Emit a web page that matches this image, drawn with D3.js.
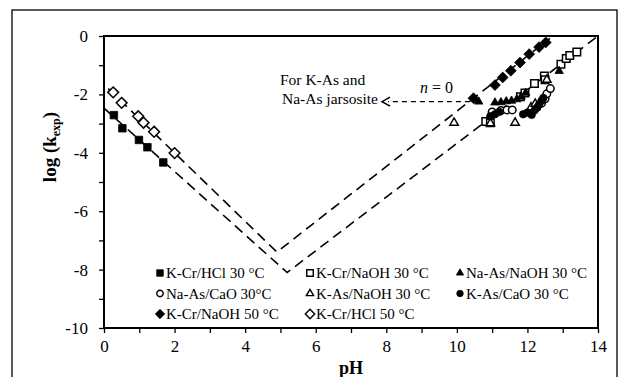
<!DOCTYPE html>
<html>
<head>
<meta charset="utf-8">
<script src="https://cdn.jsdelivr.net/npm/d3@7"></script>
<style>
  body { margin: 0; background: #fff; }
  svg { display: block; }
</style>
</head>
<body>
<div id="chart"></div>
<script>
// pH vs log(k_exp) for jarsosite decomposition

const kcrHcl30 = [[0.28, -2.71], [0.52, -3.16], [0.99, -3.56], [1.23, -3.81], [1.68, -4.33]];
const kcrHcl50 = [[0.26, -1.93], [0.5, -2.29], [0.97, -2.75], [1.12, -2.97], [1.42, -3.28], [2.0, -4.01]];
const kcrNaoh50 = [[10.47, -2.13], [11.08, -1.68], [11.3, -1.42], [11.53, -1.19], [11.79, -0.91], [12.05, -0.62], [12.33, -0.38], [12.52, -0.22]];
const kcrNaoh30 = [[10.82, -2.93], [10.95, -2.97], [11.8, -2.08], [11.93, -1.95], [12.2, -1.63], [12.48, -1.37], [12.5, -1.5], [12.95, -0.97], [13.1, -0.77], [13.2, -0.67], [13.4, -0.55]];
const naAsNaoh30 = [[10.62, -2.25], [11.08, -2.28], [11.25, -2.27], [11.4, -2.24], [11.55, -2.22], [11.7, -2.17], [11.82, -2.08], [11.95, -1.95], [12.9, -1.2]];
const kAsNaoh30 = [[9.92, -2.97], [10.95, -2.99], [11.65, -2.97], [12.1, -2.45], [12.22, -2.32], [12.55, -1.5]];
const naAsCao30 = [[11.0, -2.6], [11.25, -2.55], [11.42, -2.53], [11.57, -2.53], [12.25, -2.45], [12.4, -2.3], [12.5, -2.15], [12.55, -1.98], [12.65, -1.8]];
const kAsCao30 = [[10.95, -2.75], [11.08, -2.68], [11.2, -2.6], [11.88, -2.68], [12.0, -2.62], [12.12, -2.7], [12.2, -2.55], [12.28, -2.45], [12.33, -2.35], [12.4, -2.22], [12.45, -2.12]];

// dashed model lines (V shapes)
const lowerV = [[0, -2.47], [5.19, -8.1], [14, 0]];
const upperV = [[0.12, -1.8], [4.9, -7.4], [12.64, -0.08]];
// n = 0 arrow
const arrowLine = [[10.37, -2.25], [7.88, -2.25]];

const xTicks = d3.range(0, 15, 1);
const yTicks = d3.range(-10, 1, 1);

const series = [
  { label: 'K-Cr/HCl 30 °C', data: kcrHcl30, shape: 'square', open: false },
  { label: 'K-Cr/NaOH 30 °C', data: kcrNaoh30, shape: 'square', open: true },
  { label: 'Na-As/NaOH 30 °C', data: naAsNaoh30, shape: 'triangle', open: false },
  { label: 'Na-As/CaO 30°C', data: naAsCao30, shape: 'circle', open: true },
  { label: 'K-As/NaOH 30 °C', data: kAsNaoh30, shape: 'triangle', open: true },
  { label: 'K-As/CaO 30 °C', data: kAsCao30, shape: 'circle', open: false },
  { label: 'K-Cr/NaOH 50 °C', data: kcrNaoh50, shape: 'diamond', open: false },
  { label: 'K-Cr/HCl 50 °C', data: kcrHcl50, shape: 'diamond', open: true },
];

const W = 625, H = 377;
const font = '"Liberation Serif", "Times New Roman", serif';

const svg = d3.select('#chart').append('svg').attr('width', W).attr('height', H);

// outer figure frame
svg.append('rect').attr('x', 12).attr('y', 10).attr('width', 605).attr('height', 400)
  .attr('fill', 'none').attr('stroke', '#000').attr('stroke-width', 1.3);

const x = d3.scaleLinear().domain([0, 14]).range([104, 598]);
const y = d3.scaleLinear().domain([-10, 0]).range([328, 36]);

// axes
const gx = svg.append('g').attr('transform', `translate(0, ${y(-10)})`)
  .call(d3.axisBottom(x).tickValues(xTicks).tickSize(5).tickFormat(d => d % 2 === 0 ? String(d) : ''));
const gy = svg.append('g').attr('transform', `translate(${x(0)}, 0)`)
  .call(d3.axisLeft(y).tickValues(yTicks).tickSize(5).tickFormat(d => d % 2 === 0 ? String(d) : ''));

[gx, gy].forEach(g => {
  g.select('.domain').remove();
  g.selectAll('line').attr('stroke', '#000').attr('stroke-width', 1.3);
  g.selectAll('text').attr('font-family', font).attr('font-size', 17).attr('fill', '#000');
});
gx.selectAll('text').attr('dy', '0.95em');
gy.selectAll('text').attr('x', -16);

// plot frame
svg.append('rect').attr('x', x(0)).attr('y', y(0))
  .attr('width', x(14) - x(0)).attr('height', y(-10) - y(0))
  .attr('fill', 'none').attr('stroke', '#000').attr('stroke-width', 2);

// axis titles
svg.append('text').attr('x', (x(0) + x(14)) / 2).attr('y', 374)
  .attr('text-anchor', 'middle').attr('font-family', font).attr('font-size', 18)
  .attr('font-weight', 'bold').text('pH');

const yt = svg.append('text').attr('transform', 'translate(56, 147) rotate(-90)')
  .attr('text-anchor', 'middle').attr('font-family', font).attr('font-size', 19)
  .attr('font-weight', 'bold');
yt.append('tspan').text('log (k');
yt.append('tspan').attr('font-size', 12).attr('dy', 4).text('exp');
yt.append('tspan').attr('dy', -4).text(')');

// dashed lines
const line = d3.line().x(d => x(d[0])).y(d => y(d[1]));
svg.selectAll('path.guide').data([lowerV, upperV]).enter().append('path')
  .attr('class', 'guide').attr('d', line)
  .attr('fill', 'none').attr('stroke', '#000').attr('stroke-width', 1.6)
  .attr('stroke-dasharray', '10,6');

// arrow n = 0
const ax0 = x(arrowLine[1][0]), ay = y(arrowLine[0][1]);
svg.append('path').attr('d', line([[arrowLine[0][0], arrowLine[0][1]], [x.invert(ax0 + 6), arrowLine[1][1]]]))
  .attr('fill', 'none').attr('stroke', '#000').attr('stroke-width', 1.3)
  .attr('stroke-dasharray', '5,4');
svg.append('path').attr('d', `M${ax0 + 8},${ay - 4.5} L${ax0},${ay} L${ax0 + 8},${ay + 4.5}`)
  .attr('fill', 'none').attr('stroke', '#000').attr('stroke-width', 1.5);

const nt = svg.append('text').attr('x', 420).attr('y', 93)
  .attr('font-family', font).attr('font-size', 16);
nt.append('tspan').attr('font-style', 'italic').text('n');
nt.append('tspan').text(' = 0');

svg.append('text').attr('x', 280).attr('y', 85).attr('font-family', font).attr('font-size', 15.5)
  .text('For K-As and');
svg.append('text').attr('x', 282).attr('y', 104).attr('font-family', font).attr('font-size', 15.5)
  .text('Na-As jarsosite');

// markers
const shapePath = function(shape, s) {
  if (shape === 'square') return d3.symbol(d3.symbolSquare, s * s)();
  if (shape === 'circle') return d3.symbol(d3.symbolCircle, Math.PI * s * s / 4)();
  if (shape === 'triangle') return d3.symbol(d3.symbolTriangle, 0.433 * s * s * 1.25)();
  if (shape === 'diamond') {
    const r = s * 0.72;
    return `M0,${-r} L${r},0 L0,${r} L${-r},0 Z`;
  }
};

series.forEach(sr => {
  svg.append('g').selectAll('path').data(sr.data).enter().append('path')
    .attr('d', shapePath(sr.shape, 7.5))
    .attr('transform', d => `translate(${x(d[0])}, ${y(d[1])})`)
    .attr('fill', sr.open ? '#fff' : '#000')
    .attr('stroke', '#000').attr('stroke-width', sr.open ? 1.5 : 0.8);
});

// legend
const lg = svg.append('g').selectAll('g').data(series).enter().append('g')
  .attr('transform', (d, i) => `translate(${160 + (i % 3) * 150}, ${273 + Math.floor(i / 3) * 20.5})`);
lg.append('path').attr('d', d => shapePath(d.shape, 6.5))
  .attr('fill', d => d.open ? '#fff' : '#000')
  .attr('stroke', '#000').attr('stroke-width', d => d.open ? 1.4 : 0.8);
lg.append('text').attr('x', 6).attr('y', 5)
  .attr('font-family', font).attr('font-size', 15).text(d => d.label);
</script>
</body>
</html>
